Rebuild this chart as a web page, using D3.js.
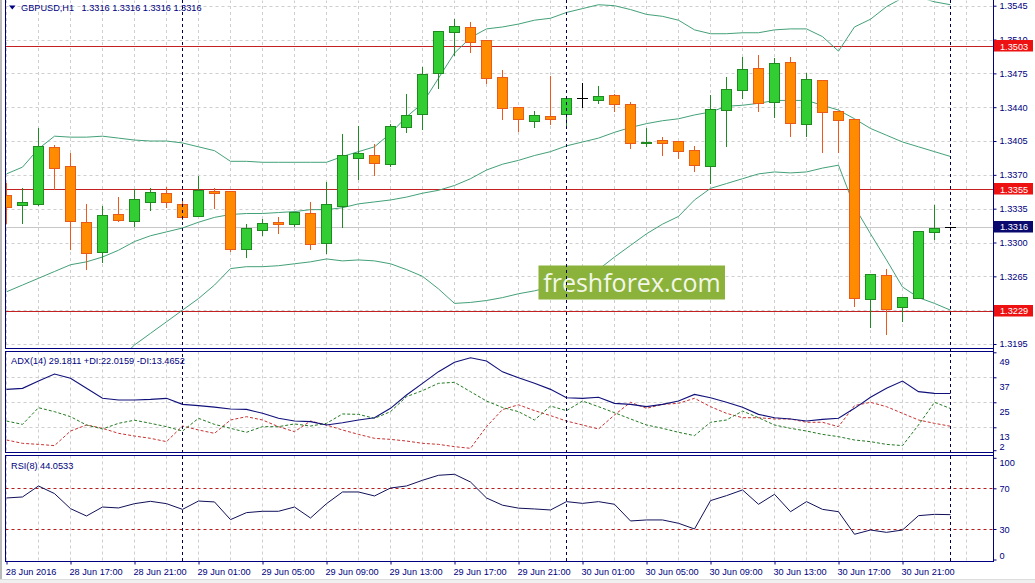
<!DOCTYPE html>
<html>
<head>
<meta charset="utf-8">
<script src="https://cdn.jsdelivr.net/npm/d3@7"></script>
<style>
  html, body { margin: 0; padding: 0; background: #fff; }
  svg { display: block; font-family: "Liberation Sans", Arial, sans-serif; }
</style>
</head>
<body>
<div id="chart"></div>
<script>
const W = 1035, H = 583;

// GBPUSD H1, 28 Jun 13:00 .. 1 Jul 00:00
const open  = [1.3349,1.3339,1.3340,1.3399,1.3379,1.3321,1.3290,1.3330,1.3322,1.3342,1.3351,1.3340,1.3327,1.3353,1.3353,1.3293,1.3313,1.3321,1.3319,1.3331,
               1.3300,1.3338,1.3387,1.3391,1.3381,1.3420,1.3433,1.3475,1.3518,1.3523,1.3509,1.3471,1.3440,1.3426,1.3431,1.3433,1.3449,1.3447,1.3453,1.3443,
               1.3403,1.3406,1.3405,1.3396,1.3379,1.3437,1.3458,1.3481,1.3445,1.3487,1.3423,1.3468,1.3436,1.3428,1.3242,1.3266,1.3233,1.3243,1.3311,1.3316];
const high  = [1.3363,1.3357,1.3420,1.3402,1.3394,1.3341,1.3339,1.3348,1.3356,1.3357,1.3358,1.3346,1.3370,1.3357,1.3353,1.3320,1.3325,1.3327,1.3332,1.3343,
               1.3364,1.3413,1.3422,1.3403,1.3424,1.3455,1.3483,1.3519,1.3532,1.3529,1.3509,1.3479,1.3440,1.3437,1.3473,1.3450,1.3466,1.3463,1.3455,1.3446,
               1.3419,1.3410,1.3405,1.3401,1.3454,1.3472,1.3493,1.3495,1.3492,1.3493,1.3476,1.3468,1.3436,1.3428,1.3268,1.3274,1.3244,1.3312,1.3340,1.3316];
const low   = [1.3320,1.3320,1.3339,1.3355,1.3293,1.3273,1.3280,1.3322,1.3317,1.3334,1.3337,1.3324,1.3327,1.3336,1.3291,1.3285,1.3308,1.3310,1.3317,1.3293,
               1.3289,1.3316,1.3366,1.3370,1.3379,1.3414,1.3417,1.3460,1.3494,1.3497,1.3465,1.3428,1.3415,1.3420,1.3423,1.3419,1.3440,1.3444,1.3436,1.3398,
               1.3400,1.3391,1.3387,1.3374,1.3362,1.3400,1.3450,1.3436,1.3430,1.3410,1.3410,1.3394,1.3394,1.3234,1.3213,1.3205,1.3219,1.3243,1.3304,1.3316];
const close = [1.3337,1.3342,1.3400,1.3377,1.3322,1.3289,1.3328,1.3323,1.3345,1.3352,1.3342,1.3326,1.3354,1.3351,1.3293,1.3315,1.3320,1.3319,1.3332,1.3298,
               1.3340,1.3391,1.3393,1.3382,1.3421,1.3432,1.3474,1.3519,1.3524,1.3507,1.3470,1.3439,1.3428,1.3432,1.3428,1.3450,1.3449,1.3452,1.3443,1.3403,
               1.3404,1.3403,1.3395,1.3380,1.3438,1.3459,1.3480,1.3444,1.3486,1.3424,1.3469,1.3435,1.3427,1.3243,1.3267,1.3231,1.3244,1.3312,1.3315,1.3316];

// Bollinger bands
const bbUpper = [1.3371,1.3378,1.3397,1.3410,1.3409,1.3409,1.3410,1.3408,1.3406,1.3405,1.3405,1.3403,1.3399,1.3395,1.3384,1.3384,1.3383,1.3383,1.3383,1.3383,
                 1.3383,1.3389,1.3394,1.3399,1.3413,1.3430,1.3444,1.3470,1.3496,1.3512,1.3521,1.3523,1.3526,1.3530,1.3532,1.3538,1.3542,1.3546,1.3545,1.3541,
                 1.3536,1.3534,1.3530,1.3520,1.3516,1.3516,1.3517,1.3517,1.3520,1.3521,1.3521,1.3513,1.3498,1.3523,1.3531,1.3544,1.3553,1.3554,1.3549,1.3546];
const bbMiddle = [1.3249,1.3256,1.3263,1.3270,1.3277,1.3280,1.3285,1.3292,1.3301,1.3307,1.3311,1.3315,1.3321,1.3326,1.3329,1.3330,1.3330,1.3331,1.3332,1.3334,
                  1.3334,1.3336,1.3340,1.3342,1.3344,1.3347,1.3351,1.3354,1.3359,1.3366,1.3375,1.3381,1.3385,1.3390,1.3394,1.3400,1.3404,1.3408,1.3414,1.3419,
                  1.3423,1.3426,1.3428,1.3432,1.3435,1.3441,1.3442,1.3444,1.3447,1.3447,1.3447,1.3442,1.3437,1.3428,1.3418,1.3411,1.3404,1.3399,1.3394,1.3389];
const bbLower = [1.3127,1.3134,1.3129,1.3130,1.3145,1.3151,1.3160,1.3178,1.3194,1.3206,1.3218,1.3230,1.3242,1.3256,1.3273,1.3275,1.3275,1.3276,1.3278,1.3280,
                 1.3283,1.3281,1.3282,1.3281,1.3278,1.3272,1.3265,1.3252,1.3237,1.3238,1.3240,1.3243,1.3247,1.3250,1.3254,1.3260,1.3265,1.3272,1.3285,1.3297,
                 1.3309,1.3319,1.3327,1.3344,1.3356,1.3361,1.3366,1.3371,1.3373,1.3372,1.3373,1.3377,1.3380,1.3337,1.3309,1.3282,1.3254,1.3243,1.3237,1.3230];

// ADX(14)
const adx = [31.2,31.7,35.2,38.6,36.5,31.7,26.9,26.1,26.1,26.4,26.9,24.0,23.4,22.7,21.8,21.6,19.7,17.3,16.0,15.7,
             14.1,15.2,16.5,17.6,22.1,28.5,34.1,39.7,44.2,46.4,44.8,39.6,36.8,34.1,31.2,27.2,26.9,27.4,24.5,24.0,
             22.9,24.0,25.6,28.8,27.2,25.0,22.6,19.2,17.6,17.0,16.0,16.8,17.3,22.1,27.4,31.7,35.2,30.1,29.3,29.2];
const plusDI = [16.0,14.4,22.4,20.5,18.1,14.1,12.2,14.9,16.4,14.9,13.3,11.2,17.3,14.4,12.5,10.6,13.3,13.3,14.6,13.6,
                14.9,19.4,19.2,17.3,20.5,27.7,30.6,34.1,34.6,30.1,25.6,22.5,20.5,16.5,23.2,21.0,25.6,22.9,20.0,17.0,
                14.1,12.5,10.6,9.0,15.4,16.5,20.8,17.6,14.1,12.5,11.2,9.6,8.5,6.9,6.1,4.8,4.2,14.1,25.0,22.0];
const minusDI = [6.9,5.3,4.8,4.2,11.2,14.1,12.5,10.1,8.8,7.7,6.1,13.6,11.7,10.1,16.5,18.1,16.5,13.3,10.9,16.0,
                 14.1,11.7,9.6,7.7,7.2,6.4,5.3,4.8,3.7,2.9,13.3,21.5,23.8,21.0,18.6,16.0,14.1,12.2,18.9,25.0,
                 22.1,24.0,24.5,26.9,22.9,19.7,17.6,17.6,17.0,17.0,15.4,15.4,13.3,23.4,25.0,22.9,19.7,16.5,14.9,13.5];

// RSI(8)
const rsi = [60.5,61.5,72.3,64.8,50.0,42.8,51.6,50.7,54.9,57.2,54.9,49.3,57.5,56.6,39.2,46.1,47.4,47.4,51.6,40.8,
             54.9,66.4,66.4,62.5,70.3,72.3,77.9,82.8,83.8,76.2,60.5,53.4,50.5,49.7,48.7,56.9,55.2,56.9,54.3,37.9,
             38.9,38.9,35.6,30.0,57.9,62.8,68.4,54.3,64.1,47.0,56.9,49.3,47.0,24.8,29.0,26.7,29.0,43.1,44.4,44.1];

const timeLabels = ['28 Jun 2016','28 Jun 17:00','28 Jun 21:00','29 Jun 01:00','29 Jun 05:00','29 Jun 09:00','29 Jun 13:00','29 Jun 17:00',
                    '29 Jun 21:00','30 Jun 01:00','30 Jun 05:00','30 Jun 09:00','30 Jun 13:00','30 Jun 17:00','30 Jun 21:00'];
const priceTicks = [1.3195,1.3230,1.3265,1.3300,1.3335,1.3370,1.3405,1.3440,1.3475,1.3510,1.3545];
const levels = [1.3503, 1.3355, 1.3229];
const lastPrice = 1.3316;
const adxTicks = [2, 13, 25, 37, 49];
const adxGrid = [13, 25, 37];
const rsiTicks = [0, 30, 70, 100];
const rsiLevels = [30, 70];
const separators = [11, 35, 59];

const navy = '#000080';
const font = 9.2;

const svg = d3.select('#chart').append('svg').attr('width', W).attr('height', H);
svg.append('rect').attr('width', W).attr('height', H).attr('fill', '#fff');

const left = 5.5, right = 993.5;
const panes = {
  main: { top: 0, bottom: 348.5 },
  adx:  { top: 351.5, bottom: 452.5 },
  rsi:  { top: 455.5, bottom: 561.5 }
};

const x = d3.scaleLinear().domain([0, 59]).range([6.5, 950.5]);
const yP = d3.scaleLinear().domain([1.3195, 1.3545]).range([344, 5.7]);
const yA = d3.scaleLinear().domain([2, 49]).range([450.2, 352.3]);
const yR = d3.scaleLinear().domain([0, 100]).range([559.5, 457.8]);
const crisp = s => v => Math.round(s(v)) + 0.5;

// clip paths
const defs = svg.append('defs');
Object.entries(panes).forEach(([k, p]) => {
  defs.append('clipPath').attr('id', 'clip-' + k).append('rect')
    .attr('x', left + 0.5).attr('y', p.top + 0.5)
    .attr('width', right - left - 1).attr('height', p.bottom - p.top - 1);
});
const pane = k => svg.append('g').attr('clip-path', `url(#clip-${k})`);

// vertical grid every 2 bars
const gridBars = d3.range(0, 62, 2);
function vGrid(g, p) {
  g.selectAll('.vg').data(gridBars).join('line')
    .attr('x1', d => x(d)).attr('x2', d => x(d))
    .attr('y1', p.top).attr('y2', p.bottom)
    .attr('stroke', '#cfcfcf').attr('stroke-dasharray', '3,3');
}
function hGrid(g, vals, s) {
  g.selectAll('.hg').data(vals).join('line')
    .attr('x1', left).attr('x2', right)
    .attr('y1', crisp(s)).attr('y2', crisp(s))
    .attr('stroke', '#cfcfcf').attr('stroke-dasharray', '3,3');
}

// ---------- main pane ----------
const mg = pane('main');
vGrid(mg.append('g'), panes.main);
hGrid(mg.append('g'), priceTicks, yP);

mg.append('line').attr('x1', left).attr('x2', right)
  .attr('y1', crisp(yP)(lastPrice)).attr('y2', crisp(yP)(lastPrice))
  .attr('stroke', '#c8c8c8');

mg.append('g').selectAll('line').data(levels).join('line')
  .attr('x1', left).attr('x2', right)
  .attr('y1', crisp(yP)).attr('y2', crisp(yP))
  .attr('stroke', '#c42222');

const bandLine = d3.line().x((d, i) => x(i)).y(d => yP(d));
[bbUpper, bbMiddle, bbLower].forEach(b => {
  mg.append('path').attr('d', bandLine(b)).attr('fill', 'none')
    .attr('stroke', '#43a078').attr('stroke-width', 1);
});

const py = crisp(yP);
const bullFill = '#32cd32', bullEdge = '#1f8a1f', bearFill = '#ff8c00', bearEdge = '#ea5a18';
const edge = i => close[i] > open[i] ? bullEdge : close[i] < open[i] ? bearEdge : '#000';
const cg = mg.append('g').attr('shape-rendering', 'crispEdges');
const bars = d3.range(open.length);
cg.selectAll('.wick').data(bars).join('line')
  .attr('x1', i => x(i)).attr('x2', i => x(i))
  .attr('y1', i => py(high[i])).attr('y2', i => py(low[i]))
  .attr('stroke', edge);
cg.selectAll('.body').data(bars.filter(i => close[i] !== open[i])).join('rect')
  .attr('x', i => x(i) - 5).attr('width', 10)
  .attr('y', i => py(Math.max(open[i], close[i])))
  .attr('height', i => Math.max(py(Math.min(open[i], close[i])) - py(Math.max(open[i], close[i])), 0))
  .attr('fill', i => close[i] > open[i] ? bullFill : bearFill)
  .attr('stroke', edge);
cg.selectAll('.doji').data(bars.filter(i => close[i] === open[i])).join('line')
  .attr('x1', i => x(i) - 5.5).attr('x2', i => x(i) + 5.5)
  .attr('y1', i => py(open[i])).attr('y2', i => py(open[i]))
  .attr('stroke', '#000');

// watermark
const wm = mg.append('g');
wm.append('rect').attr('x', 538.5).attr('y', 265.5).attr('width', 186.5).attr('height', 34)
  .attr('fill', '#8bb23b');
wm.append('text').attr('x', 632).attr('y', 291.5).attr('text-anchor', 'middle')
  .attr('font-family', '"Open Sans", "Noto Sans", sans-serif').attr('font-size', 25)
  .attr('fill', '#f3f7ea').text('freshforex.com');

// header
svg.append('path').attr('d', 'M9,5.5 L15.5,5.5 L12.25,9.5 Z').attr('fill', navy);
svg.append('text').attr('x', 21).attr('y', 11).attr('font-size', font).attr('fill', navy).text('GBPUSD,H1');
svg.append('text').attr('x', 81.5).attr('y', 11).attr('font-size', font).attr('fill', navy)
  .text(`${lastPrice.toFixed(4)} ${lastPrice.toFixed(4)} ${lastPrice.toFixed(4)} ${lastPrice.toFixed(4)}`);

// ---------- ADX pane ----------
const ag = pane('adx');
vGrid(ag.append('g'), panes.adx);
hGrid(ag.append('g'), adxGrid, yA);
const adxLine = d3.line().x((d, i) => x(i)).y(d => yA(d));
ag.append('path').attr('d', adxLine(minusDI)).attr('fill', 'none')
  .attr('stroke', '#c83232').attr('stroke-dasharray', '3,2');
ag.append('path').attr('d', adxLine(plusDI)).attr('fill', 'none')
  .attr('stroke', '#237a23').attr('stroke-dasharray', '3,2');
ag.append('path').attr('d', adxLine(adx)).attr('fill', 'none')
  .attr('stroke', '#10107a').attr('stroke-width', 1.1);
svg.append('text').attr('x', 11).attr('y', 364).attr('font-size', font).attr('fill', navy)
  .text(`ADX(14) 29.1811 +DI:22.0159 -DI:13.4652`);

// ---------- RSI pane ----------
const rg = pane('rsi');
vGrid(rg.append('g'), panes.rsi);
rg.append('g').selectAll('line').data(rsiLevels).join('line')
  .attr('x1', left).attr('x2', right)
  .attr('y1', crisp(yR)).attr('y2', crisp(yR))
  .attr('stroke', '#b41e1e').attr('stroke-dasharray', '3,3');
rg.append('path').attr('d', d3.line().x((d, i) => x(i)).y(d => yR(d))(rsi))
  .attr('fill', 'none').attr('stroke', '#10105a');
svg.append('text').attr('x', 11).attr('y', 468.5).attr('font-size', font).attr('fill', navy)
  .text('RSI(8) 44.0533');

// period separators
svg.append('g').selectAll('line').data(separators).join('line')
  .attr('x1', d => x(d)).attr('x2', d => x(d))
  .attr('y1', 0).attr('y2', panes.rsi.bottom)
  .attr('stroke', '#000050').attr('stroke-dasharray', '3,3');

// ---------- frames ----------
const fr = svg.append('g').attr('fill', 'none').attr('stroke', navy).attr('shape-rendering', 'crispEdges');
fr.append('line').attr('x1', left).attr('x2', left).attr('y1', 0).attr('y2', panes.main.bottom);
fr.append('line').attr('x1', left).attr('x2', right).attr('y1', panes.main.bottom).attr('y2', panes.main.bottom);
['adx', 'rsi'].forEach(k => {
  const p = panes[k];
  fr.append('rect').attr('x', left).attr('y', p.top).attr('width', right - left).attr('height', p.bottom - p.top);
});
fr.append('line').attr('x1', right).attr('x2', right).attr('y1', 0).attr('y2', panes.rsi.bottom);

svg.append('rect').attr('x', 0).attr('y', 0).attr('width', 2).attr('height', H).attr('fill', '#b9b9b9');
svg.append('rect').attr('x', 0).attr('y', 579).attr('width', W).attr('height', 4).attr('fill', '#f0f0f0');
svg.append('line').attr('x1', 0).attr('x2', W).attr('y1', 579.5).attr('y2', 579.5).attr('stroke', '#dcdcdc');

// ---------- axes ----------
function styleAxis(g) {
  g.select('.domain').remove();
  g.selectAll('line').attr('stroke', navy);
  g.selectAll('text').attr('fill', navy).attr('font-size', font)
    .attr('font-family', '"Liberation Sans", Arial, sans-serif');
}

const pAxis = svg.append('g').attr('transform', `translate(${right},0)`)
  .call(d3.axisRight(yP).tickValues(priceTicks).tickSize(3).tickPadding(3).tickFormat(d3.format('.4f')));
styleAxis(pAxis);

const aAxis = svg.append('g').attr('transform', `translate(${right},0)`)
  .call(d3.axisRight(yA).tickValues(adxTicks).tickSize(3).tickPadding(3));
styleAxis(aAxis);
aAxis.selectAll('text').attr('dy', null)
  .attr('y', d => Math.min(Math.max(8.5, panes.adx.top + 7 - yA(d)), panes.adx.bottom - 6 - yA(d)) + 3.3);

const rAxis = svg.append('g').attr('transform', `translate(${right},0)`)
  .call(d3.axisRight(yR).tickValues(rsiTicks).tickSize(3).tickPadding(3));
styleAxis(rAxis);
rAxis.selectAll('text').attr('dy', null)
  .attr('y', d => Math.min(Math.max(0, panes.rsi.top + 6.5 - yR(d)), panes.rsi.bottom - 6.8 - yR(d)) + 3.3);

// level price tags
const tags = svg.append('g');
const tagData = levels.map(v => ({ v, fill: '#ee1111' })).concat([{ v: lastPrice, fill: '#0a0a6e' }]);
tags.selectAll('rect').data(tagData).join('rect')
  .attr('x', 994).attr('width', 39)
  .attr('y', d => Math.round(yP(d.v)) - 6).attr('height', 11.5)
  .attr('fill', d => d.fill);
tags.selectAll('text').data(tagData).join('text')
  .attr('x', 1000).attr('y', d => yP(d.v) + 3.3)
  .attr('font-size', font).attr('fill', '#fff')
  .text(d => d.v.toFixed(4));

const tickBars = d3.range(0, open.length, 4);
const xAxis = svg.append('g').attr('transform', `translate(0,${panes.rsi.bottom})`)
  .call(d3.axisBottom(x).tickValues(tickBars).tickSize(3).tickFormat((d, i) => timeLabels[i]));
styleAxis(xAxis);
xAxis.selectAll('text').attr('text-anchor', 'start').attr('dy', null).attr('y', 13.5)
  .attr('x', (d, i) => i === 0 ? -1.2 : -1.5);
</script>
</body>
</html>
